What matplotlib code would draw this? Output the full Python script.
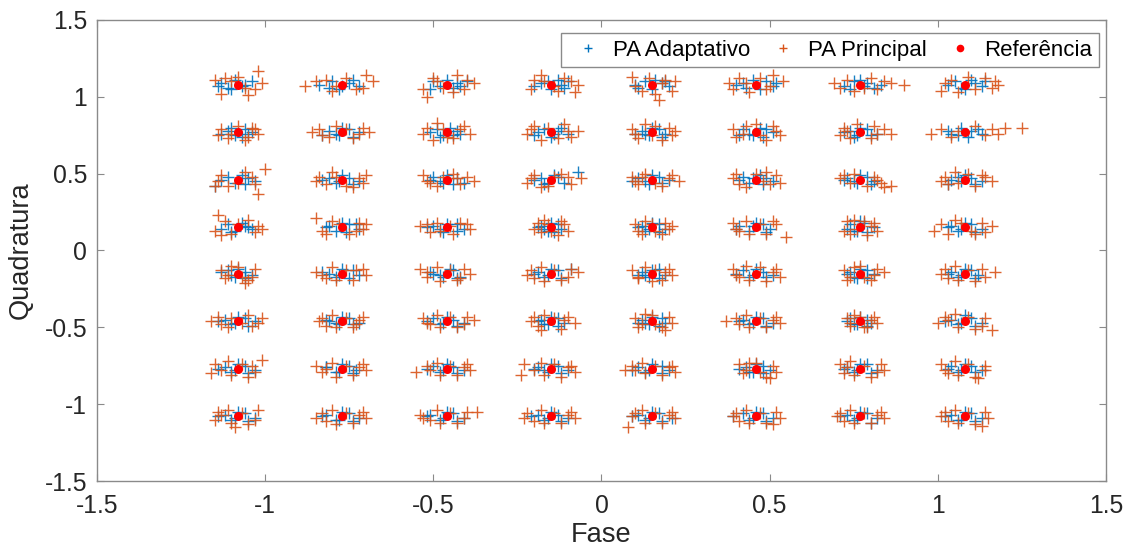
import matplotlib
matplotlib.use("Agg")
import matplotlib.pyplot as plt
from matplotlib.lines import Line2D

plt.rcParams['font.family'] = ['Liberation Sans', 'DejaVu Sans']

# 64-QAM ideal levels (same on both axes)
levels = [-1.08, -0.77, -0.46, -0.15, 0.15, 0.46, 0.77, 1.08]
ticks = [-1.5, -1, -0.5, 0, 0.5, 1, 1.5]
tick_labels = ["-1.5", "-1", "-0.5", "0", "0.5", "1", "1.5"]

# Received symbols around each constellation point, offsets in hundredths
# (dx,dy). One string per point, rows from Q = 1.08 down to Q = -1.08,
# columns from I = -1.08 to I = 1.08.
adapt_offsets = [
    # Q = 1.08
    "-5,1 -3,-2 -1,3 2,0 4,2 -2,-3 1,-1 -6,-1",
    "-7,0 -3,2 2,1 5,-1 -1,-3 3,3 0,-1 -4,-2",
    "-4,2 -2,-1 3,1 6,2 0,3 -5,-3 2,-2 4,-1",
    "-3,1 2,3 4,-2 -5,-1 0,-3 3,0 -1,2 5,2",
    "-2,2 3,1 5,-1 -4,-2 0,-3 1,3 -5,0 4,2",
    "-4,1 -1,3 3,2 5,-1 -3,-2 1,-3 6,1 -6,0",
    "-5,-1 -2,2 2,1 4,-2 0,3 -3,-3 6,0 1,-1",
    "-3,2 -1,-2 3,1 5,-1 -5,0 2,3 6,2 0,-3",
    # Q = 0.77
    "-3,1 -1,-2 2,2 4,0 -5,-1 1,-3 3,-1 -2,3",
    "-4,1 -2,-1 2,2 5,0 -6,-2 0,3 3,-3 -1,-2",
    "-3,2 -1,-2 3,1 4,-1 -5,0 1,3 -2,-3 2,-2",
    "-4,0 -2,2 2,1 5,-1 0,-3 -5,-2 3,3 1,-1",
    "-3,1 -1,-2 2,2 4,-1 -5,-1 0,3 3,-3 -2,-1",
    "-4,2 -2,-1 3,2 5,0 -5,-2 1,3 2,-3 -1,-2",
    "-3,1 -1,-2 2,2 5,-1 -5,0 0,3 3,-2 -2,-3",
    "-5,1 -2,-2 2,1 4,2 -4,-1 1,-3 5,-1 -1,3",
    # Q = 0.46
    "-7,-4 -3,2 -1,-2 3,1 5,-1 -5,0 1,3 2,-3",
    "-4,1 -2,-2 2,1 5,-1 -6,0 0,3 3,-3 -1,-1",
    "-4,2 -2,-1 3,1 5,-2 -5,0 0,3 2,-3 -1,-2",
    "-3,1 -1,-2 2,2 8,5 -5,0 1,3 4,-2 -2,-3",
    "-4,1 -2,-1 2,2 5,0 -6,-1 0,3 3,-2 -1,-3",
    "-4,2 -2,-2 3,1 5,-1 -5,0 1,3 2,-3 -1,1",
    "-4,1 -2,-1 2,2 4,-1 -5,0 0,3 3,-3 -1,-2",
    "-5,-3 -2,2 2,1 5,-1 -4,0 0,3 3,-3 -1,-1",
    # Q = 0.15
    "-5,-1 -3,2 -1,-2 2,1 4,-1 1,3 -2,-3 3,0",
    "-4,1 -2,-2 2,2 5,-1 -5,0 0,3 4,2 1,-3",
    "-4,1 -2,-1 3,2 5,-1 -6,0 0,2 3,-2 -1,-3",
    "-3,1 -1,-2 2,2 3,-1 -4,0 0,3 1,-3 -2,-1",
    "-3,1 -1,-1 2,2 4,-1 -4,0 0,3 2,-3 -2,-2",
    "-5,1 -2,-2 2,2 4,-1 -6,-1 0,3 3,-3 -1,1",
    "-3,2 -1,-2 1,3 4,0 -4,-1 0,4 2,-3 -2,-2",
    "-4,1 -2,-2 2,2 5,-1 -5,0 0,3 3,-3 -1,-1",
    # Q = -0.15
    "-3,2 -1,-2 2,1 4,-1 -5,1 0,3 2,-3 -2,-1",
    "-4,0 -2,-2 3,2 5,-1 -6,1 0,3 2,-3 -1,-1",
    "-5,1 -2,-1 2,2 4,-2 -4,0 1,3 3,-3 -1,-2",
    "-4,1 -2,-2 2,2 6,3 -5,0 0,3 3,-3 -1,-1",
    "-3,1 -1,-2 2,3 4,-1 -4,-1 0,2 2,-3 -2,-1",
    "-4,2 -2,-2 2,1 5,-1 -6,0 0,3 3,-2 -1,-1",
    "-3,1 -1,-3 2,2 4,0 -4,0 0,3 2,-3 -2,-2",
    "-4,1 -2,-2 2,2 4,-1 -5,0 0,3 3,-3 -1,-1",
    # Q = -0.46
    "-4,1 -2,-2 2,2 5,0 -6,0 0,3 3,-3 -1,-1",
    "-5,1 -2,-1 2,2 5,-1 -4,0 0,3 3,-2 -1,-2",
    "-4,2 -2,-2 2,1 5,-1 -6,0 0,3 3,-3 -1,-1",
    "-3,1 -1,-2 2,2 4,-1 -4,0 0,3 2,-3 -2,-2",
    "-3,1 -1,-2 3,2 4,-1 -4,-1 0,3 2,-3 -2,-1",
    "-4,1 -2,-2 2,2 5,-1 -5,0 0,3 3,-3 -1,-1",
    "-3,2 -1,-2 2,1 3,-1 -4,0 0,3 2,-3 -2,-2",
    "-4,1 -2,-2 2,2 5,-1 -6,0 0,4 3,-3 -1,-1",
    # Q = -0.77
    "-4,1 -2,-2 2,2 5,-1 -6,0 0,3 3,-3 -1,-1",
    "-5,1 -2,-2 2,2 4,-1 -5,1 0,3 3,-3 -1,-2",
    "-4,2 -2,-2 2,1 5,-1 -6,0 0,3 3,-3 -1,-1",
    "-4,1 -2,-1 2,2 5,-1 -5,0 0,3 3,-3 -1,-2",
    "-4,1 -2,-2 3,2 5,-1 -6,-1 0,3 3,-3 -1,-1",
    "-3,1 -1,-2 2,2 4,-1 -5,0 0,3 2,-3 -2,-2",
    "-4,1 -2,-2 2,3 5,-1 -5,0 0,3 3,-3 -1,-1",
    "-4,2 -2,-2 2,2 5,-1 -5,0 0,3 3,-2 -1,-1",
    # Q = -1.08
    "-4,1 -2,-2 2,2 5,-1 -6,0 0,3 3,-3 -1,-1",
    "-5,1 -2,-2 2,2 5,-1 -6,0 0,3 3,-3 -1,-2",
    "-5,1 -2,-2 2,2 5,-1 -6,0 0,3 3,-3 -1,-1",
    "-4,1 -2,-2 2,1 5,-1 -6,0 0,3 3,-3 -1,-1",
    "-4,1 -2,-2 2,2 6,-1 -6,0 0,3 3,-3 -1,-1",
    "-4,2 -2,-2 2,2 5,-1 -7,0 0,3 3,-3 -1,-1",
    "-4,1 -2,-2 2,2 5,-1 -6,0 0,3 3,-4 -1,-1",
    "-4,1 -2,-2 2,2 5,-1 -6,0 0,3 3,-3 -1,-2",
]

main_offsets = [
    # Q = 1.08
    "6,9 -4,4 5,-3 -5,-6 3,-7 -2,2 7,1 -7,3 0,5 2,-2",
    "-11,-1 -8,2 7,6 9,2 -3,-4 4,-3 -5,3 1,4 6,-2 -2,-1",
    "-6,-8 -7,-3 6,3 3,6 -3,2 2,-5 8,1 -1,-2 5,-3 -4,4",
    "-3,6 7,-5 -6,-3 4,4 2,-4 -2,2 8,0 -5,3 1,-1 6,2",
    "-6,5 2,-10 6,-4 -3,-4 4,3 -1,4 7,2 -5,-1 1,-6 3,1",
    "-7,-3 -5,4 5,6 8,2 -2,-5 3,-3 -8,1 1,4 4,-1 -3,1",
    "9,1 13,0 -4,3 -6,-2 3,4 5,-3 -2,-4 7,2 -8,1 1,-2",
    "-7,-4 10,0 -4,3 6,4 8,-2 -2,-5 3,-3 -6,1 1,5 9,2",
    # Q = 0.77
    "-5,2 4,3 -3,-4 6,-1 2,-5 -6,-2 0,4 5,2 -2,-1 3,-3",
    "-9,0 -7,2 6,3 8,0 -4,-3 3,-4 -2,4 5,-1 -6,-2 1,2",
    "-6,3 -4,-5 5,4 7,-1 -3,6 2,-4 4,2 -7,-1 0,-3 -1,2",
    "-7,-1 -5,4 6,-3 4,5 -3,-5 8,1 2,-4 -1,3 5,1 -6,2",
    "-6,2 -4,-4 5,3 6,-2 -2,5 3,-5 7,1 -5,-1 1,4 0,-2",
    "-6,-3 -7,2 5,4 7,-2 -3,4 3,-5 6,1 -4,-1 0,5 1,-2",
    "-5,3 -6,-2 9,-1 7,2 -3,-4 4,4 3,-4 -1,5 5,-1 -4,1",
    "-10,-1 -7,2 8,2 12,3 17,3 6,-2 -4,-3 3,4 -2,1 10,-1",
    # Q = 0.46
    "-7,-4 8,7 6,-9 -5,3 4,2 -3,-4 2,5 -6,-1 5,-3 0,-2",
    "-7,2 -5,-3 7,3 6,-2 -3,5 3,-5 -2,2 5,1 -8,-1 1,-4",
    "-7,3 -5,-2 6,2 8,-1 -3,-4 2,4 4,-3 -1,2 -6,-1 3,1",
    "-7,-2 -5,3 6,-3 9,1 -3,-5 3,4 5,2 -1,-4 -6,1 1,2",
    "-6,2 -4,-3 6,3 8,-1 -2,4 3,-4 5,1 -5,-1 1,-2 -3,2",
    "-6,4 -5,-3 6,3 7,-2 -3,-5 3,5 4,-3 -7,1 0,4 2,-1",
    "-5,3 -3,-2 6,-2 7,-5 -6,1 4,2 2,-4 -2,4 5,0 9,-4",
    "-6,2 -5,-3 6,2 8,-1 -3,5 3,-4 5,3 -2,-2 -7,-1 1,4",
    # Q = 0.15
    "-6,8 6,1 -7,-2 -4,4 5,-3 3,5 -2,-4 0,2 7,-1 -5,-5",
    "-8,6 -6,-2 5,3 7,2 -3,4 2,-4 -5,-4 4,-2 -1,2 6,-1",
    "-8,1 -5,-3 6,2 7,-1 -3,3 2,-4 4,3 -2,-2 -6,2 1,1",
    "-4,3 -3,-3 4,2 5,-2 -2,5 2,-5 3,4 -5,-1 0,-2 -1,2",
    "-5,2 -4,-2 4,3 5,-1 -2,4 3,-4 6,1 -3,-4 0,2 1,-2",
    "-7,3 -5,-2 6,2 9,-6 -3,4 3,-4 5,4 -2,-4 -6,-1 1,2",
    "-4,4 -5,-2 4,3 5,-2 -2,5 2,-5 3,1 -3,-4 1,4 -1,-1",
    "-9,-2 -7,2 5,3 8,1 -3,5 3,-4 6,-3 -5,-4 -1,3 2,-2",
    # Q = -0.15
    "-5,2 -4,-3 5,3 4,-2 -2,5 2,-6 3,-4 -3,-1 0,4 1,-2",
    "-8,1 -5,-3 6,3 7,-1 -3,4 3,-4 4,2 -2,-4 -6,-1 1,2",
    "-8,3 -6,-2 7,0 5,3 -3,4 3,-4 4,-3 -2,-5 -6,1 1,2",
    "-6,2 -5,-3 6,3 8,1 -3,4 3,-4 5,-2 -2,-5 -7,-1 1,2",
    "-6,2 -4,-3 5,3 6,-1 -2,4 3,-4 4,1 -4,-2 0,-5 1,2",
    "-7,3 -5,-2 6,3 7,-2 -3,5 3,-5 5,1 -2,-4 -6,-1 1,4",
    "-5,2 -4,-4 5,3 7,1 -2,4 3,-4 4,-1 -3,-2 0,5 1,-2",
    "-6,3 -5,-3 5,3 9,1 -3,5 3,-5 6,-2 -2,-4 -7,0 1,2",
    # Q = -0.46
    "-8,0 -6,3 7,2 6,-1 -3,-4 3,4 4,-3 -2,2 -5,-2 1,-1",
    "-6,2 -5,-3 6,3 4,-2 -3,4 3,-4 5,1 -2,-4 -7,0 1,2",
    "-7,2 -5,-2 6,3 8,1 -3,4 3,-4 5,-2 -2,-4 -6,-1 1,3",
    "-5,3 -4,-3 5,3 7,-1 -2,4 3,-5 4,1 -3,-6 -6,0 1,2",
    "-5,2 -4,-4 5,3 6,-1 -2,5 3,-4 4,-6 -3,-2 0,4 1,-2",
    "-9,0 -6,2 6,3 7,-1 -3,4 3,-4 5,1 -2,-4 -5,-2 1,2",
    "-4,2 -3,-3 4,3 5,-1 -2,4 2,-4 3,1 -3,-1 0,3 1,-4",
    "-8,-1 -6,3 6,2 8,-6 -3,5 3,-5 5,-3 -2,-4 -5,1 1,3",
    # Q = -0.77
    "-8,-3 -7,3 7,6 5,-2 -3,5 3,-5 4,2 -2,-4 -5,-1 1,3",
    "-8,2 -6,-2 6,3 7,-1 -3,4 3,-4 5,1 -2,-5 -5,0 1,2",
    "-9,-2 -6,2 6,3 7,-1 -3,4 3,-4 5,1 -2,-4 -5,-1 1,2",
    "-9,-4 -8,3 6,2 7,-2 -3,4 3,-5 5,1 -2,-4 -5,-1 1,3",
    "-8,-1 -6,2 6,2 7,-2 -3,4 3,-4 5,1 -2,-3 -5,-1 1,2",
    "-5,3 -4,-3 5,2 6,-2 -2,4 3,-5 4,-6 -3,-1 0,4 1,-2",
    "-6,3 -5,-3 6,3 7,-1 -3,5 3,-5 5,-2 -2,-4 -4,1 1,2",
    "-7,3 -5,-3 6,2 4,-6 -3,5 3,-5 6,-1 -2,-4 -6,-1 1,3",
    # Q = -1.08
    "-6,3 6,4 -1,-7 5,-2 -3,4 3,-5 -7,-2 -2,-4 -5,1 1,2",
    "-6,2 -5,-3 6,3 7,-1 -3,4 3,-4 5,1 -2,-5 -8,-1 1,2",
    "-7,-1 -8,1 6,3 9,3 -3,4 3,-4 5,-1 -2,-4 -5,-2 1,2",
    "-7,2 -5,-3 6,3 7,-1 -3,4 3,-4 5,1 -2,-4 -8,-1 1,2",
    "-7,-7 -5,2 6,3 7,-1 -3,4 3,-4 5,1 -2,-4 -6,0 1,2",
    "-6,2 -5,-3 6,3 7,-1 -3,4 3,-4 5,-5 -2,-4 -7,0 1,2",
    "-6,2 -5,-3 6,3 7,-1 -3,4 3,-4 5,1 -2,-4 -7,0 1,2",
    "-6,3 -5,-3 6,3 7,-1 -3,4 3,-5 5,-6 -2,-4 -7,0 1,2",
]


def expand(offset_strings):
    xs, ys = [], []
    for k, s in enumerate(offset_strings):
        row, col = divmod(k, 8)
        cx, cy = levels[col], levels[::-1][row]
        for pair in s.split():
            dx, dy = pair.split(",")
            xs.append(cx + int(dx) / 100)
            ys.append(cy + int(dy) / 100)
    return xs, ys


ref_x = [i for q in levels for i in levels]
ref_y = [q for q in levels for i in levels]

adapt_x, adapt_y = expand(adapt_offsets)
main_x, main_y = expand(main_offsets)

blue = "#0072BD"
orange = "#D95319"
text_color = "#262626"
frame_color = "#8a8a8a"

fig = plt.figure(figsize=(11.38, 5.55), dpi=100)
ax = fig.add_axes([0.0852, 0.1333, 0.8867, 0.8307])

ax.plot(adapt_x, adapt_y, linestyle="none", marker="+", markersize=8,
        markeredgewidth=1.0, color=blue, alpha=0.9)
ax.plot(main_x, main_y, linestyle="none", marker="+", markersize=8,
        markeredgewidth=1.0, color=orange, alpha=0.9)
ax.plot(ref_x, ref_y, linestyle="none", marker="o", markersize=6.5,
        color="red", markeredgewidth=0)

ax.set_xlim(-1.5, 1.5)
ax.set_ylim(-1.5, 1.5)
ax.set_xticks(ticks)
ax.set_yticks(ticks)
ax.set_xticklabels(tick_labels)
ax.set_yticklabels(tick_labels)
ax.tick_params(direction="in", top=True, right=True, length=5, width=0.8,
               labelsize=17.8, colors=text_color, pad=7)
ax.tick_params(axis="x", pad=9)
ax.tick_params(color=frame_color)
for side in ax.spines.values():
    side.set_color(frame_color)
    side.set_linewidth(1.0)

ax.set_xlabel("Fase", fontsize=19.6, color=text_color, labelpad=3)
ax.set_ylabel("Quadratura", fontsize=19.6, color=text_color, labelpad=8)

handles = [
    Line2D([], [], linestyle="none", marker="+", markersize=5.5,
           markeredgewidth=1.0, color=blue),
    Line2D([], [], linestyle="none", marker="+", markersize=5.5,
           markeredgewidth=1.0, color=orange),
    Line2D([], [], linestyle="none", marker="o", markersize=5.5,
           markeredgewidth=0, color="red"),
]
leg = ax.legend(handles, ["PA Adaptativo", "PA Principal", "Referência"],
                loc="upper right", ncol=3, fontsize=16, frameon=True,
                fancybox=False, borderpad=0.3, handletextpad=0.15,
                columnspacing=0.55, handlelength=1.9, borderaxespad=0,
                bbox_to_anchor=(0.993, 0.972))
leg.get_frame().set_edgecolor(frame_color)
leg.get_frame().set_linewidth(1.0)
leg.get_frame().set_alpha(1.0)
for t in leg.get_texts():
    t.set_color("black")

fig.savefig("out.png", dpi=100)
